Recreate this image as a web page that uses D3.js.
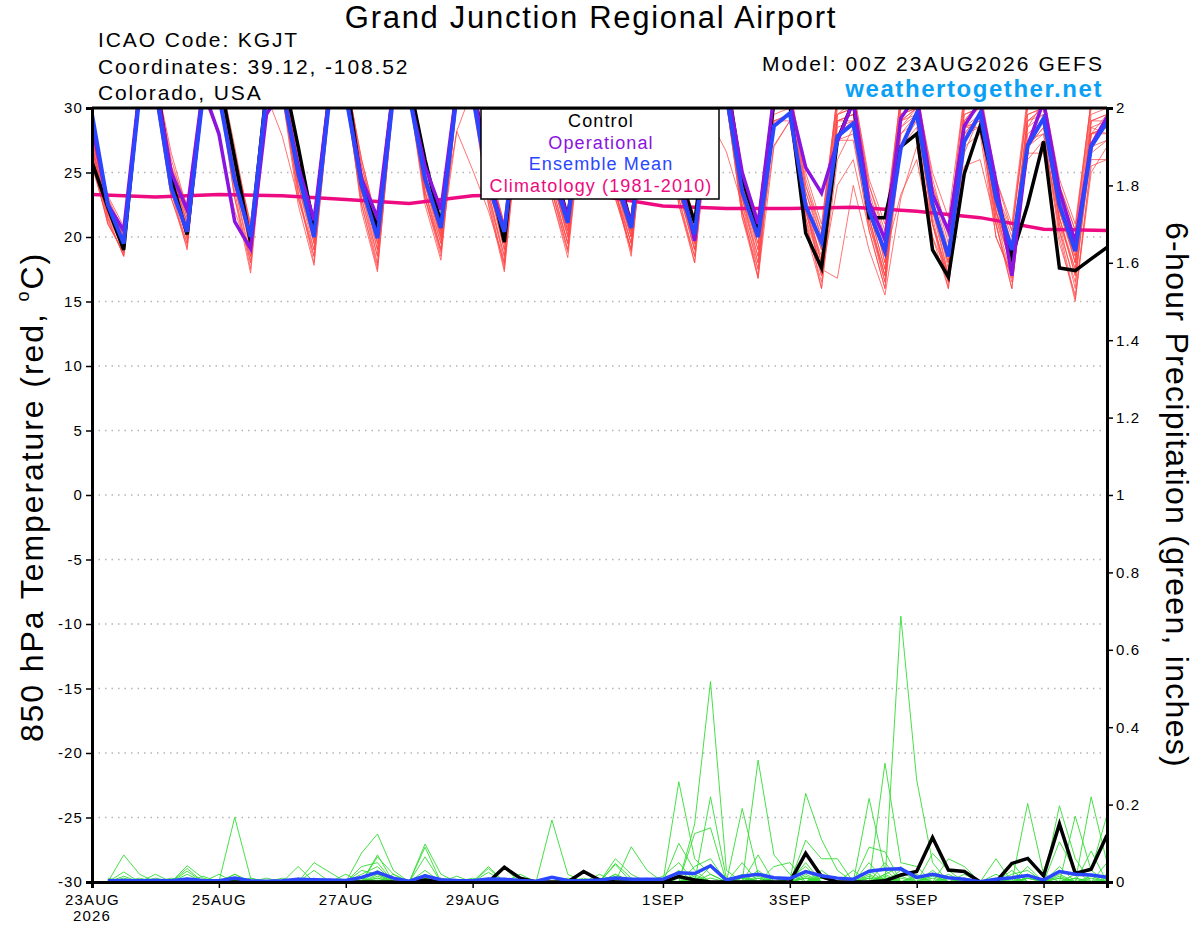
<!DOCTYPE html>
<html>
<head>
<meta charset="utf-8">
<script src="https://cdn.jsdelivr.net/npm/d3@7"></script>
<style>
  body { margin: 0; background: #fff; }
  svg { font-family: 'Liberation Sans', Arial, Helvetica, sans-serif; letter-spacing: 0.07em; }
</style>
</head>
<body>
<div id="graf"></div>
<script>
// I. Datos

// horas de pronostico cada 6 h, 23AUG2026 00Z -> 8SEP2026 00Z
horas = d3.range(0, 385, 6)
horasPrecip = horas.slice(1)

ticksFecha = [0, 48, 96, 144, 216, 264, 312, 360]
etiquetasFecha = ['23AUG', '25AUG', '27AUG', '29AUG', '1SEP', '3SEP', '5SEP', '7SEP']
ticksTemp = [30, 25, 20, 15, 10, 5, 0, -5, -10, -15, -20, -25, -30]
ticksPrecip = [0, 0.2, 0.4, 0.6, 0.8, 1, 1.2, 1.4, 1.6, 1.8, 2]

// 850 hPa temperatura (C)
tempControl = [25.8,22.3,19.0,31.5, 32.5,24.5,20.2,31.5, 32.5,26.1,19.6,31.5, 33.0,27.0,20.7,31.5,
  32.5,24.0,20.7,31.5, 32.0,26.0,21.0,31.5, 32.0,25.0,19.6,31.5, 32.5,26.0,21.5,31.0,
  32.0,25.5,21.0,31.0, 32.5,25.0,21.1,31.0, 32.5,24.5,20.7,30.5, 30.3,20.3,17.6,27.5,
  30.5,21.5,21.5,27.0, 28.0,19.0,16.9,24.9, 28.6,23.5,18.5,22.5, 27.4,17.6,17.4,18.3, 19.2]

tempOperacional = [28.7,22.5,20.5,31.5, 32.0,25.0,22.1,31.5, 28.0,21.2,19.1,29.5, 31.5,25.5,21.3,31.5,
  31.0,24.5,21.5,31.5, 31.0,25.5,22.1,31.5, 32.0,24.5,20.5,31.0, 32.0,25.5,21.5,31.0,
  32.0,25.0,21.0,31.0, 31.5,25.0,19.7,31.0, 32.0,25.0,21.0,31.0, 30.5,25.4,23.4,27.4,
  30.5,22.7,19.8,29.2, 31.0,23.3,20.5,28.6, 30.5,24.3,17.0,27.1, 30.5,23.6,19.6,27.1, 29.3]

tempMedia = [29.5,22.5,19.5,31.0, 31.5,23.8,20.4,31.0, 31.0,24.4,20.0,31.0, 31.5,25.0,20.0,31.0,
  31.0,24.0,19.9,31.0, 31.0,24.5,20.7,31.0, 31.0,24.0,20.4,31.0, 31.0,25.0,21.1,31.0,
  31.0,24.5,20.7,31.0, 31.0,24.0,20.2,30.5, 31.0,23.5,20.0,28.6, 29.6,22.4,19.6,27.8,
  28.8,22.0,18.9,26.9, 29.6,22.5,18.5,27.4, 29.6,23.0,19.0,27.1, 29.2,22.5,18.9,27.0, 28.9]

// climatologia diaria (00Z)
horasClima = d3.range(0, 385, 24)
tempClima = [23.3, 23.1, 23.3, 23.2, 22.9, 22.6, 23.2, 23.3, 23.2, 22.4, 22.2, 22.2, 22.3, 22.0, 21.5, 20.6, 20.5]

// miembros del ensamble (temperatura)
tempMiembros = [
  [27.0,22.0,19.2,31.5, 32.0,24.5,20.8,31.0, 32.5,25.5,19.8,31.5, 32.0,25.0,20.5,31.0, 32.0,24.0,19.5,31.5, 32.0,25.5,20.8,31.0, 32.0,24.5,19.5,31.0, 31.5,25.0,21.0,31.0, 31.5,24.5,20.5,31.0, 32.0,24.0,19.5,31.0, 31.5,23.0,19.5,30.5, 30.5,22.0,18.5,29.5, 30.5,22.5,19.0,28.5, 30.0,22.0,18.0,29.0, 30.5,23.5,19.5,28.5, 30.5,22.0,18.5,28.0, 29.5],
  [26.5,21.5,18.5,31.0, 31.5,24.0,20.0,31.5, 32.0,24.5,19.0,31.0, 32.5,26.0,21.0,31.5, 32.5,24.5,20.0,31.0, 31.5,24.0,20.0,31.5, 32.0,25.5,20.5,31.5, 32.0,24.5,20.5,31.0, 31.0,23.5,19.5,30.5, 31.5,25.0,20.5,31.0, 31.0,22.0,16.8,27.0, 29.0,21.5,17.5,16.8, 24.0,19.0,15.5,23.0, 27.0,21.0,16.5,26.5, 29.5,22.0,17.5,27.0, 28.5,20.5,15.2,25.0, 27.0],
  [28.0,23.0,20.0,32.0, 32.5,25.5,21.5,32.0, 33.0,27.0,20.5,32.0, 32.5,25.5,19.5,31.5, 33.0,25.5,21.0,32.0, 32.5,26.0,21.3,32.0, 32.5,25.0,20.0,31.5, 32.0,26.0,21.5,31.5, 32.0,25.5,21.0,32.0, 32.0,25.5,21.0,31.5, 32.0,25.0,21.0,31.5, 31.5,24.5,20.5,31.0, 31.5,24.0,20.0,31.0, 31.5,24.5,20.0,31.0, 31.0,23.5,20.0,30.5, 31.0,24.0,20.5,30.5, 31.0],
  [26.0,21.0,18.8,30.5, 31.0,23.0,19.2,30.5, 31.5,23.0,17.2,30.0, 31.0,22.5,17.8,30.5, 31.5,22.0,17.3,30.5, 31.0,22.5,18.2,30.5, 31.0,22.5,17.3,30.0, 30.5,23.0,18.4,30.0, 30.5,23.5,18.8,30.5, 31.0,23.0,18.0,30.0, 30.5,21.5,17.5,29.0, 29.5,22.0,18.0,28.0, 29.0,21.0,16.5,28.0, 29.5,21.5,16.4,28.5, 29.0,21.0,16.5,27.5, 29.0,21.5,17.0,26.5, 27.5],
  [27.5,22.5,19.5,31.5, 32.0,25.0,21.0,31.5, 32.5,26.0,20.0,31.5, 32.0,24.0,20.0,31.0, 32.0,24.5,19.0,31.5, 32.0,23.5,19.5,31.5, 31.5,24.0,19.0,31.0, 31.5,24.5,20.5,31.0, 31.0,24.0,20.0,31.0, 31.5,24.5,20.0,30.5, 30.5,24.0,20.5,30.0, 30.5,21.5,16.0,26.0, 28.5,23.0,18.0,29.5, 30.0,23.0,17.5,29.0, 30.5,22.5,18.0,29.5, 30.0,21.0,16.0,29.0, 29.0],
  [26.8,21.8,19.0,31.0, 31.5,24.0,20.5,31.0, 27.8,22.0,18.5,31.0, 27.8,23.0,19.0,30.5, 31.5,23.5,18.5,31.0, 31.0,24.0,19.5,28.2, 25.2,22.0,18.0,30.5, 31.0,24.0,19.5,30.5, 31.5,23.0,19.0,30.5, 31.0,23.5,19.5,29.0, 26.6,22.5,18.5,27.1, 29.0,22.5,17.0,24.0, 26.0,20.5,16.0,27.0, 29.0,22.5,17.0,28.0, 28.5,21.5,17.8,27.5, 28.0,20.0,15.0,26.0, 26.0],
  [27.2,22.2,19.8,31.5, 32.0,25.0,21.8,32.0, 32.5,25.5,20.8,31.5, 32.0,25.5,21.2,31.5, 32.5,26.0,21.0,32.0, 32.0,25.0,20.5,31.5, 32.0,25.5,21.0,31.5, 32.0,25.5,21.0,31.0, 31.5,25.0,20.8,31.5, 32.0,24.0,20.8,31.5, 31.5,24.0,19.0,31.0, 31.0,23.5,20.0,30.5, 31.0,22.5,18.5,30.0, 31.0,24.0,19.5,29.5, 30.0,22.0,18.5,29.0, 30.0,23.0,19.5,29.5, 30.0],
  [25.5,21.2,18.6,31.0, 31.5,23.5,19.5,31.0, 32.0,24.0,18.0,31.0, 31.5,23.0,18.5,31.0, 31.5,23.0,18.0,31.0, 31.5,23.0,18.8,31.0, 31.5,23.5,18.0,31.0, 31.0,23.5,19.0,30.5, 31.0,24.0,19.5,30.5, 31.0,23.0,18.5,30.5, 30.5,22.5,17.5,29.5, 30.0,23.0,19.0,29.0, 29.5,22.0,17.5,29.5, 30.0,22.0,17.0,25.5, 26.0,21.0,16.0,27.0, 29.0,22.5,18.0,28.5, 28.0],
  [28.5,23.0,20.5,32.0, 32.0,25.5,22.5,32.0, 32.5,26.5,21.0,32.0, 32.5,26.0,21.5,32.0, 32.5,25.0,21.5,32.0, 32.0,25.5,21.0,28.2, 31.5,26.0,20.5,31.5, 32.0,26.0,21.5,32.0, 32.0,26.0,21.0,31.5, 32.0,25.5,21.5,32.0, 32.0,25.0,21.5,31.5, 31.5,25.0,21.0,31.0, 31.5,24.5,21.0,31.0, 31.0,25.0,21.5,31.0, 31.5,24.5,21.0,31.0, 31.0,24.5,21.0,30.5, 30.5],
  [26.2,21.6,19.0,31.0, 31.5,24.0,20.0,31.0, 32.0,24.5,19.5,31.5, 32.0,24.5,20.0,31.0, 32.0,24.0,20.0,31.0, 31.5,24.5,20.5,31.0, 31.5,24.0,19.5,31.0, 31.5,24.5,20.0,31.0, 31.5,24.0,20.0,30.5, 31.0,23.5,19.0,30.5, 31.0,23.5,20.0,30.5, 30.5,22.5,19.0,29.5, 30.0,21.5,17.0,29.0, 30.0,21.0,16.0,28.0, 29.5,22.0,18.5,28.5, 29.5,21.0,17.5,28.0, 28.5],
  [27.8,22.6,20.2,31.5, 32.0,25.0,21.2,31.5, 32.0,25.0,20.2,31.5, 32.0,25.0,20.8,31.5, 32.0,25.0,20.5,31.5, 32.0,24.5,20.0,31.5, 32.0,24.0,19.0,31.0, 31.5,25.0,20.8,31.5, 31.5,24.5,20.3,31.0, 31.5,25.0,20.0,31.0, 31.5,23.0,18.0,30.0, 30.0,22.0,17.5,28.5, 29.0,23.0,19.5,30.0, 30.5,23.5,19.0,30.0, 30.5,23.0,19.0,29.5, 30.0,23.5,19.0,29.0, 29.5],
  [26.8,22.0,19.6,31.0, 31.5,24.5,20.2,31.5, 32.0,25.0,19.0,31.0, 31.5,24.0,19.5,31.0, 31.5,23.0,18.5,31.0, 31.5,23.5,19.0,31.0, 31.5,23.0,18.5,30.5, 31.0,24.0,19.5,31.0, 31.0,23.5,19.0,30.5, 31.0,24.0,19.0,30.5, 30.5,22.0,17.0,29.0, 29.5,21.0,16.5,27.5, 28.0,20.5,16.0,28.5, 29.5,22.5,18.0,28.5, 29.0,21.5,16.8,27.0, 28.0,20.5,16.5,27.0, 27.5],
  [27.5,22.8,20.0,32.0, 32.5,26.0,22.0,32.0, 32.5,26.0,20.5,32.0, 32.5,25.5,20.0,32.0, 32.0,25.5,20.8,31.5, 32.0,25.0,20.5,31.5, 32.0,25.0,20.0,31.5, 31.5,25.5,21.2,31.5, 31.5,25.0,20.5,31.5, 31.5,24.5,20.5,31.5, 31.5,24.5,20.5,31.0, 31.0,24.0,20.0,30.5, 31.0,23.5,19.5,30.5, 31.0,23.0,18.5,30.0, 30.5,23.5,20.5,30.0, 30.5,23.0,20.0,30.0, 30.5],
  [26.5,21.8,19.4,31.0, 31.5,24.0,19.8,31.0, 31.5,24.0,18.5,31.0, 31.5,24.0,19.0,30.5, 31.5,23.5,19.0,31.0, 31.0,23.0,18.5,30.5, 31.0,23.5,18.5,30.5, 31.0,23.0,18.8,30.5, 30.5,23.0,19.0,30.5, 31.0,22.5,18.5,30.0, 30.5,23.0,18.5,30.0, 30.0,21.0,17.0,29.0, 29.5,22.0,18.5,23.3, 26.0,20.0,17.0,28.0, 29.5,23.0,19.0,26.0, 27.5,21.5,17.5,28.0, 28.5],
  [27.0,22.4,19.8,31.5, 32.0,25.0,21.0,31.5, 32.5,25.0,19.5,31.5, 32.0,25.0,20.3,31.5, 32.0,24.5,20.3,31.5, 32.0,24.5,19.8,31.5, 32.0,24.5,20.2,31.5, 31.5,24.5,20.2,31.0, 31.5,24.5,20.0,31.0, 31.5,24.5,20.0,31.0, 31.5,23.5,19.5,30.5, 30.5,23.5,19.5,30.0, 30.5,23.0,18.0,29.5, 30.5,22.5,18.5,29.5, 30.0,22.0,17.5,29.0, 30.0,22.5,18.0,29.0, 29.5],
  [25.8,21.0,18.8,30.5, 31.0,23.0,19.5,30.5, 31.0,23.0,18.0,30.5, 31.0,23.5,18.5,30.5, 31.0,22.5,17.8,30.5, 31.0,23.0,19.0,30.5, 30.5,22.5,17.8,30.5, 30.5,23.5,19.5,30.5, 31.0,23.5,19.5,30.5, 30.5,23.5,19.0,30.5, 31.0,22.0,18.0,30.0, 30.0,23.0,18.0,29.0, 29.0,21.5,17.0,28.0, 29.0,21.0,17.0,28.5, 28.5,21.0,16.0,27.0, 28.5,22.0,18.5,28.0, 28.0],
  [28.2,23.2,20.8,32.0, 32.5,26.5,22.2,32.0, 32.5,26.0,21.0,32.0, 32.5,26.5,21.0,32.0, 32.5,26.0,21.0,32.0, 32.5,26.0,21.0,32.0, 32.0,25.5,21.0,32.0, 32.0,25.5,21.0,31.5, 32.0,25.5,20.8,31.5, 32.0,25.0,21.0,31.5, 31.5,25.0,21.0,31.5, 31.5,24.0,20.5,31.0, 31.0,24.0,20.5,31.0, 31.0,24.0,20.5,30.5, 31.0,24.5,20.5,30.5, 30.5,24.0,20.5,30.5, 30.5],
  [26.0,21.4,18.5,30.5, 31.0,23.5,19.0,31.0, 31.5,23.5,17.5,30.5, 31.0,23.5,18.0,30.5, 31.0,22.5,17.5,30.5, 31.0,23.5,19.0,30.5, 31.0,23.0,17.5,30.0, 30.5,23.5,19.0,30.5, 30.5,23.5,18.5,30.5, 30.5,22.5,18.0,30.0, 30.5,21.5,16.8,29.0, 29.0,20.5,16.0,27.5, 27.5,21.0,17.0,27.0, 28.5,20.0,16.0,27.0, 28.0,20.0,17.0,26.5, 26.5,19.5,15.5,25.5, 26.0],
  [27.0,22.0,19.5,31.5, 32.0,24.5,20.5,31.5, 32.0,25.5,20.0,31.5, 32.0,24.5,19.8,31.5, 32.0,24.5,20.0,31.5, 32.0,24.0,20.2,31.5, 31.5,24.5,19.8,31.0, 31.5,24.5,20.5,31.0, 31.5,24.0,20.5,31.0, 31.5,24.0,19.5,31.0, 31.0,24.0,20.0,30.5, 30.5,22.5,18.0,29.5, 30.0,22.0,17.5,29.0, 30.0,22.5,18.0,29.0, 30.0,22.5,18.5,29.0, 29.5,22.0,18.0,28.5, 29.0],
  [27.6,22.5,20.0,31.5, 32.0,25.0,21.5,31.5, 32.0,25.5,20.5,31.5, 32.0,25.0,20.5,31.5, 32.0,24.5,19.5,31.5, 32.0,25.0,20.3,31.5, 32.0,24.5,19.5,31.5, 31.5,24.5,20.0,31.0, 31.5,24.5,20.0,31.0, 31.5,23.5,20.0,31.0, 31.0,23.0,19.0,30.5, 30.5,22.0,17.5,29.0, 29.5,21.5,16.5,29.0, 29.5,21.0,17.0,28.5, 29.5,20.0,17.0,28.0, 29.0,21.5,17.0,28.0, 28.5]
]

// precipitacion 6 h (pulgadas), horas 6..384
precipControl = [0,0,0,0,0,0,0,0, 0,0,0,0,0,0,0,0, 0,0,0,0,.005,0,0,0, 0,.038,.01,0,0,0,.027,.005,
  0,0,0,0,.014,.005,0,0, 0,0,0,0,.074,.014,0,0, 0,.003,.018,.027,.115,.031,.027,0, 0,.048,.061,.016,.15,.022,.033,.121]

precipMedia = [.003,.004,.003,.004,.003,.008,.004,.003, .01,.003,.002,.003,.007,.006,.005,.004,
  .012,.025,.01,.002,.016,.006,.004,.003, .008,.007,.004,.002,.012,.004,.003,.005,
  .01,.007,.007,.007,.024,.022,.042,.005, .015,.02,.011,.009,.027,.016,.01,.007,
  .028,.033,.034,.012,.02,.011,.007,.001, .007,.011,.017,.005,.027,.02,.018,.012]

precipMiembros = [
  [0,.07,.02,0,0,0,0,0, .02,0,0,0,0,0,0,0, .075,.124,.03,0,0,0,0,0, 0,0,0,0,0,0,0,0, .02,0,0,0,.259,.06,.02,0, 0,0,0,0,.05,0,0,0, .02,0,.687,.264,.05,0,0,0, 0,0,.04,0,.02,0,0,0],
  [0,.026,0,0,0,.042,.01,0, 0,0,0,0,0,0,0,0, 0,.07,0,0,.098,.02,0,0, 0,0,0,0,.16,.02,0,0, 0,0,0,0,0,.15,.518,.03, 0,.07,0,0,0,.02,0,0, 0,.05,0,0,0,0,0,0, 0,0,.203,.02,0,0,.08,0],
  [0,0,0,.02,0,0,0,0, .167,.01,0,0,0,.05,.025,0, 0,0,0,0,0,0,0,0, .04,0,0,0,0,0,0,0, .06,.02,0,0,0,0,0,0, .19,.02,0,0,.229,.11,.03,0, 0,0,0,0,0,0,0,0, .06,0,0,0,.104,.03,0,0],
  [0,0,0,0,0,.035,0,0, 0,0,0,0,.04,0,0,0, .04,.05,0,0,.09,0,0,0, 0,.035,0,0,0,0,0,0, 0,.091,.03,0,.1,.03,0,0, 0,0,0,0,0,0,0,0, .216,.03,0,0,.074,.03,0,0, 0,.05,0,0,0,0,.22,.05],
  [.01,0,0,0,0,.028,0,0, 0,0,0,0,0,0,0,0, 0,.065,.02,0,0,0,0,0, .035,0,0,0,0,0,0,0, 0,0,0,0,0,0,.22,.01, 0,.315,.07,.02,0,0,0,0, 0,.307,.05,.04,0,0,0,0, 0,0,0,0,.197,.06,0,0],
  [0,.015,0,0,0,0,0,.02, 0,0,0,0,0,.03,0,.02, 0,0,0,0,.065,0,0,0, 0,0,.02,0,0,0,0,0, .045,0,0,0,0,.125,.14,0, 0,0,0,0,.108,.06,.06,0, 0,0,0,0,0,.06,.04,0, 0,0,0,0,0,.17,.03,.173],
  [0,0,0,0,.01,0,0,0, .02,0,0,.01,0,0,0,0, .02,.04,0,0,0,0,0,0, .025,0,0,0,0,0,0,.02, 0,0,0,.015,.05,0,0,0, .05,0,.04,.05,0,0,0,0, .09,.078,0,0,0,0,0,0, 0,.02,.03,0,0,0,0,.05],
  [0,0,.01,0,0,.02,0,0, 0,0,.01,0,0,0,0,0, 0,0,.02,0,0,.01,0,0, 0,0,0,0,0,.01,0,0, .048,.01,0,0,0,.04,.06,0, 0,0,0,0,.03,0,0,.03, 0,.02,.04,0,.03,0,0,0, .02,0,0,0,.04,0,0,0],
  [0,.01,0,0,0,0,.015,0, 0,0,0,0,.01,0,0,0, 0,.03,0,0,.03,0,.015,0, 0,0,0,0,0,0,.01,0, 0,0,0,0,.03,0,.04,0, 0,.03,0,0,0,.03,0,0, .03,0,0,.02,0,0,.02,0, 0,0,.02,0,0,.02,.03,0],
  [.005,0,0,.01,0,0,0,0, 0,.01,0,0,0,0,0,0, .03,.02,0,0,0,0,0,.01, 0,0,0,0,0,0,0,.01, 0,0,.01,0,0,.02,0,0, .02,0,0,.01,.04,0,0,0, .05,0,.03,0,0,.02,0,0, 0,.03,0,0,0,0,0,.02],
  [0,0,0,0,0,.01,0,0, 0,0,0,0,0,.01,0,0, 0,.015,0,0,0,0,0,0, 0,.01,0,0,0,0,0,0, .02,0,0,0,.015,0,0,0, .015,0,0,0,.02,0,0,0, 0,.02,0,0,.015,0,0,0, .01,0,0,0,.01,0,0,0],
  [0,.005,0,0,0,0,0,0, .005,0,0,0,0,0,0,0, .01,0,0,0,.02,0,0,0, .01,0,0,0,0,0,0,0, 0,.01,0,0,0,.015,0,0, 0,.01,0,0,0,.015,0,0, .01,0,0,.01,0,0,0,0, 0,0,.01,0,0,0,0,0],
  [0,0,0,0,.005,0,0,0, 0,0,0,0,.005,0,0,0, 0,.01,0,0,0,0,0,0, 0,0,0,0,.01,0,0,0, .01,0,0,.01,0,0,.02,0, 0,0,.01,0,.01,0,0,0, 0,.015,0,0,0,0,.01,0, 0,0,0,0,0,0,.01,0],
  [0,0,.005,0,0,.01,0,0, 0,0,0,0,0,0,0,0, .01,0,0,0,.01,0,0,0, 0,0,0,0,0,0,.005,0, 0,0,0,0,0,.01,0,0, .01,0,0,0,.015,0,0,0, .015,0,0,0,.01,0,0,0, 0,.01,0,0,0,.01,0,0],
  [0,0,0,0,0,0,0,0, .01,0,0,0,0,0,0,0, 0,.02,0,0,0,0,0,0, .005,0,0,0,0,0,0,0, .015,0,0,0,.02,0,0,0, 0,.015,0,0,0,.01,0,0, 0,0,.01,0,0,.01,0,0, 0,0,.01,0,0,0,0,.01],
  [0,0,0,0,0,.005,0,0, 0,0,0,0,0,0,0,0, 0,.01,0,0,0,0,0,0, 0,0,0,0,0,0,0,0, .01,0,0,0,0,.01,0,0, 0,0,0,0,.01,0,0,0, 0,.01,0,0,.02,0,0,0, 0,0,0,0,.015,0,0,0],
  [0,0,0,0,0,0,0,0, 0,0,0,0,.01,0,0,0, 0,0,0,0,.01,0,0,0, 0,0,0,0,0,0,0,0, 0,0,0,0,.01,0,0,0, 0,.01,0,0,0,0,0,0, .01,0,0,.015,0,0,0,0, 0,.01,0,0,0,0,.015,0],
  [0,.005,0,0,0,0,0,0, 0,0,0,0,0,0,0,0, .005,0,0,0,0,0,0,0, 0,0,0,0,0,0,0,0, 0,.005,0,0,0,0,.01,0, 0,0,0,0,0,.01,0,0, 0,0,.015,0,0,0,0,0, 0,0,.01,0,0,.01,0,0],
  [0,0,0,0,0,0,0,0, .005,0,0,0,0,0,0,0, 0,0,0,0,0,0,0,0, .005,0,0,0,0,0,0,0, .005,0,0,0,0,0,0,0, .01,0,0,0,.01,0,0,0, 0,0,0,0,0,.01,0,0, .01,0,0,0,0,0,0,0],
  [0,0,0,0,0,0,0,0, 0,0,0,0,0,0,0,0, 0,.005,0,0,0,0,0,0, 0,0,0,0,0,0,0,0, 0,0,0,0,0,.005,0,0, 0,0,.01,0,0,0,0,0, 0,.01,0,0,0,0,.01,0, 0,0,0,0,.01,0,0,.005]
]

// II. Configuracion

ancho_total = 1200
alto_total = 927
margins = { top: 108, left: 92, right: 93, bottom: 45 }
ancho = ancho_total - margins.left - margins.right
alto = alto_total - margins.top - margins.bottom

colores = {
  control: '#000000',
  operacional: '#8a14e0',
  media: '#2a46ff',
  clima: '#ee0a80',
  miembroT: '#ff4a4a',
  miembroP: '#33dd33',
  web: '#0aa0f5'
}

svg = d3.select('#graf').append('svg')
  .attr('width', ancho_total)
  .attr('height', alto_total)

g = svg.append('g')
  .attr('transform', `translate(${margins.left}, ${margins.top})`)

x = d3.scaleLinear().domain([0, 384]).range([0, ancho])
y = d3.scaleLinear().domain([-30, 30]).range([alto, 0])
yP = d3.scaleLinear().domain([0, 2]).range([alto, 0])

svg.append('defs').append('clipPath').attr('id', 'recorte')
  .append('rect').attr('x', 0).attr('y', 0).attr('width', ancho).attr('height', alto)

// rejilla punteada
g.selectAll('.rejilla')
  .data(ticksTemp.filter(d => d > -30 && d < 30))
  .enter().append('line')
  .attr('class', 'rejilla')
  .attr('x1', 0).attr('x2', ancho)
  .attr('y1', d => y(d)).attr('y2', d => y(d))
  .attr('stroke', '#b4b4b4')
  .attr('stroke-width', 1.5)
  .attr('stroke-dasharray', '1.5,5')

// III. Lineas

lineaT = (hs) => d3.line().x((d, i) => x(hs[i])).y(d => y(d))
lineaP = (hs) => d3.line().x((d, i) => x(hs[i])).y(d => yP(d))

trazos = g.append('g').attr('clip-path', 'url(#recorte)')

trazos.selectAll('.miembroT')
  .data(tempMiembros)
  .enter().append('path')
  .attr('class', 'miembroT')
  .attr('d', lineaT(horas))
  .attr('fill', 'none')
  .attr('stroke', colores.miembroT)
  .attr('stroke-opacity', 0.85)
  .attr('stroke-width', 0.9)

trazos.selectAll('.miembroP')
  .data(precipMiembros)
  .enter().append('path')
  .attr('class', 'miembroP')
  .attr('d', lineaP(horasPrecip))
  .attr('fill', 'none')
  .attr('stroke', colores.miembroP)
  .attr('stroke-width', 0.9)

trazos.append('path')
  .attr('d', lineaT(horasClima)(tempClima))
  .attr('fill', 'none').attr('stroke', colores.clima).attr('stroke-width', 3.5)

series = [
  { v: tempControl, c: colores.control, w: 3.5 },
  { v: tempOperacional, c: colores.operacional, w: 3.5 },
  { v: tempMedia, c: colores.media, w: 4 }
]
series.forEach(s => {
  trazos.append('path')
    .attr('d', lineaT(horas)(s.v))
    .attr('fill', 'none').attr('stroke', s.c).attr('stroke-width', s.w)
})

trazos.append('path')
  .attr('d', lineaP(horasPrecip)(precipControl))
  .attr('fill', 'none').attr('stroke', colores.control).attr('stroke-width', 3.5)
trazos.append('path')
  .attr('d', lineaP(horasPrecip)(precipMedia))
  .attr('fill', 'none').attr('stroke', colores.media).attr('stroke-width', 3.5)

// IV. Ejes

ejeY = g.append('g')
  .call(d3.axisLeft(y).tickValues(ticksTemp).tickSize(6).tickFormat(d => String(d)))
ejeP = g.append('g')
  .attr('transform', `translate(${ancho}, 0)`)
  .call(d3.axisRight(yP).tickValues(ticksPrecip).tickSize(6).tickFormat(d3.format('~g')))
ejeX = g.append('g')
  .attr('transform', `translate(0, ${alto})`)
  .call(d3.axisBottom(x).tickValues(ticksFecha).tickSize(6).tickFormat((d, i) => etiquetasFecha[i]))

;[ejeY, ejeP, ejeX].forEach(e => {
  e.select('.domain').attr('stroke-width', 3).attr('stroke', '#000')
  e.selectAll('.tick line').attr('stroke-width', 1.5)
  e.selectAll('text').attr('font-size', 15).attr('fill', '#000')
    .attr('font-family', "'Liberation Sans', Arial, sans-serif")
})
ejeX.selectAll('.tick text').attr('y', 9).attr('dy', '0.95em')
ejeX.append('text')
  .attr('x', x(0)).attr('y', 39)
  .attr('text-anchor', 'middle').attr('font-size', 15).attr('fill', '#000')
  .text('2026')

g.append('line')
  .attr('x1', 0).attr('x2', ancho).attr('y1', 0).attr('y2', 0)
  .attr('stroke', '#000').attr('stroke-width', 3)

// V. Textos

svg.append('text')
  .attr('x', 591).attr('y', 28)
  .attr('text-anchor', 'middle').attr('font-size', 31)
  .attr('letter-spacing', '0.055em')
  .text('Grand Junction Regional Airport')

info = ['ICAO Code: KGJT', 'Coordinates: 39.12, -108.52', 'Colorado, USA']
svg.selectAll('.info')
  .data(info).enter().append('text')
  .attr('x', 98).attr('y', (d, i) => 47 + i * 26.5)
  .attr('font-size', 21)
  .attr('letter-spacing', '0.09em')
  .text(d => d)

svg.append('text')
  .attr('x', 1104).attr('y', 71)
  .attr('text-anchor', 'end').attr('font-size', 21)
  .attr('letter-spacing', '0.1em')
  .text('Model: 00Z 23AUG2026 GEFS')

svg.append('text')
  .attr('x', 1103).attr('y', 97)
  .attr('text-anchor', 'end').attr('font-size', 24).attr('font-weight', 'bold')
  .attr('letter-spacing', '0.065em')
  .attr('fill', colores.web)
  .text('weathertogether.net')

tituloY = svg.append('text')
  .attr('transform', 'translate(43, 497) rotate(-90)')
  .attr('text-anchor', 'middle').attr('font-size', 32)
  .attr('letter-spacing', '0.06em')
tituloY.append('tspan').text('850 hPa Temperature (red, ')
tituloY.append('tspan').attr('font-size', 18).attr('dy', -14).text('o')
tituloY.append('tspan').attr('dy', 14).text('C)')

svg.append('text')
  .attr('transform', 'translate(1166, 495) rotate(90)')
  .attr('text-anchor', 'middle').attr('font-size', 32)
  .attr('letter-spacing', '0.04em')
  .text('6-hour Precipitation (green, inches)')

// leyenda
leyenda = svg.append('g')
leyenda.append('rect')
  .attr('x', 481).attr('y', 109).attr('width', 238).attr('height', 90)
  .attr('fill', '#fff').attr('stroke', '#000').attr('stroke-width', 1.5)
itemsLeyenda = [
  { t: 'Control', c: colores.control },
  { t: 'Operational', c: colores.operacional },
  { t: 'Ensemble Mean', c: colores.media },
  { t: 'Climatology (1981-2010)', c: colores.clima }
]
leyenda.selectAll('.item')
  .data(itemsLeyenda).enter().append('text')
  .attr('x', 601).attr('y', (d, i) => 127 + i * 21.7)
  .attr('text-anchor', 'middle').attr('font-size', 18)
  .attr('fill', d => d.c)
  .text(d => d.t)
</script>
</body>
</html>
